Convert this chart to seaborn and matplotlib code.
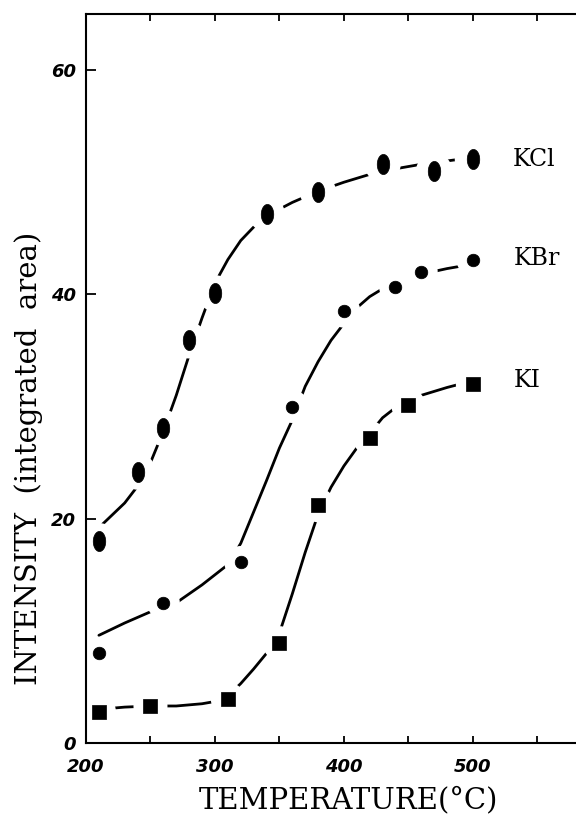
import numpy as np
import pandas as pd
import matplotlib
matplotlib.use("Agg")
import matplotlib.pyplot as plt
import seaborn as sns
from matplotlib.path import Path

# ---------------- data ----------------
kcl_temp = [210, 240, 260, 280, 300, 340, 380, 430, 470, 500]
kcl_int = [18.0, 24.2, 28.1, 35.9, 40.1, 47.2, 49.1, 51.6, 51.0, 52.1]

kbr_temp = [210, 260, 320, 360, 400, 440, 460, 500]
kbr_int = [8.0, 12.5, 16.1, 30.0, 38.5, 40.7, 42.0, 43.1]

ki_temp = [210, 250, 310, 350, 380, 420, 450, 500]
ki_int = [2.8, 3.3, 3.9, 8.9, 21.2, 27.2, 30.1, 32.0]

# smooth guide curves
kcl_curve_t = [210, 220, 230, 240, 250, 260, 270, 280, 290, 300, 310, 320,
               330, 340, 350, 360, 370, 380, 400, 420, 440, 460, 480, 500]
kcl_curve_i = [19.2, 20.3, 21.4, 22.9, 25.0, 27.8, 31.0, 34.6, 37.9, 41.0, 43.1, 44.8,
               46.0, 46.9, 47.6, 48.2, 48.7, 49.2, 50.0, 50.7, 51.2, 51.6, 51.9, 52.2]

kbr_curve_t = [210, 230, 250, 270, 290, 310, 320, 330, 340, 350, 360, 370,
               380, 390, 400, 410, 420, 430, 440, 450, 460, 480, 500]
kbr_curve_i = [9.6, 10.7, 11.7, 12.5, 14.1, 15.9, 17.8, 20.6, 23.4, 26.3, 28.8, 31.8,
               34.0, 35.9, 37.4, 38.8, 39.8, 40.5, 41.1, 41.5, 41.8, 42.3, 42.7]

ki_curve_t = [210, 230, 250, 270, 290, 300, 310, 320, 330, 340, 350, 360, 370,
              380, 390, 400, 410, 420, 430, 440, 450, 460, 480, 490, 500]
ki_curve_i = [3.0, 3.2, 3.3, 3.3, 3.5, 3.7, 4.2, 5.3, 6.6, 8.0, 9.8, 13.3, 17.0,
              20.4, 22.8, 24.7, 26.3, 27.6, 29.0, 29.9, 30.5, 31.0, 31.7, 32.0, 32.2]

series_names = ["KCl", "KBr", "KI"]
label_temp = [531, 532, 532]
label_int = [52.0, 43.2, 32.3]

x_ticks = [200, 250, 300, 350, 400, 450, 500, 550]
x_tick_labels = ["200", "", "300", "", "400", "", "500", ""]
y_ticks = [0, 20, 40, 60]
y_tick_labels = ["0", "20", "40", "60"]

x_label = "TEMPERATURE(°C)"
y_label = "INTENSITY  (integrated  area)"

# ---------------- styling ----------------
sns.set_theme(style="ticks")
plt.rcParams["font.family"] = ["DejaVu Sans"]
plt.rcParams["axes.linewidth"] = 1.5

fig = plt.figure(figsize=(5.76, 8.14), dpi=100)
ax = fig.add_axes([86 / 576, 71 / 814, 490 / 576, 729 / 814])

theta = np.linspace(0, 2 * np.pi, 64)
ellipse = Path(np.column_stack([0.62 * np.cos(theta), np.sin(theta)]), closed=True)

curves = [
    (kcl_curve_t, kcl_curve_i),
    (kbr_curve_t, kbr_curve_i),
    (ki_curve_t, ki_curve_i),
]
points = [
    (kcl_temp, kcl_int, ellipse, 210, 680),
    (kbr_temp, kbr_int, "o", 82, 560),
    (ki_temp, ki_int, "s", 100, 600),
]

for (ct, ci) in curves:
    df = pd.DataFrame({"t": ct, "i": ci})
    sns.lineplot(data=df, x="t", y="i", ax=ax, color="black", linewidth=2.0,
                 sort=False, estimator=None, zorder=2,
                 solid_capstyle="round")

for (pt, pi_, mk, s, halo) in points:
    df = pd.DataFrame({"t": pt, "i": pi_})
    # white gap around every marker, as in the original drawing
    ax.scatter(df["t"], df["i"], s=halo, marker="o", facecolors="white",
               edgecolors="none", linewidths=0, zorder=3)
    sns.scatterplot(data=df, x="t", y="i", ax=ax, marker=mk, s=s,
                    color="black", edgecolor="black", linewidth=0.5, zorder=4)

for name, lt, li in zip(series_names, label_temp, label_int):
    ax.text(lt, li, name, ha="left", va="center", fontsize=17,
            family=["DejaVu Serif"], color="black")

ax.set_xlim(200, 580)
ax.set_ylim(0, 65)

ax.set_xticks(x_ticks)
ax.set_xticklabels(x_tick_labels)
ax.set_yticks(y_ticks)
ax.set_yticklabels(y_tick_labels)

for lab in ax.get_xticklabels() + ax.get_yticklabels():
    lab.set_fontweight("bold")
    lab.set_fontstyle("italic")
    lab.set_fontsize(13)
    lab.set_family(["DejaVu Sans"])

ax.tick_params(axis="x", direction="in", length=5, width=1.3, top=True,
               bottom=True, pad=11, colors="black")
ax.tick_params(axis="y", direction="in", length=7, width=1.3, left=True,
               right=False, pad=7, colors="black")

ax.spines["right"].set_visible(False)
for sp in ["left", "bottom", "top"]:
    ax.spines[sp].set_color("black")
    ax.spines[sp].set_linewidth(1.5)
    ax.spines[sp].set_zorder(6)

ax.set_xlabel(x_label, fontsize=21, family=["DejaVu Serif"], color="black")
ax.set_ylabel(y_label, fontsize=21, family=["DejaVu Serif"], color="black",
              va="center")
ax.xaxis.set_label_coords(0.535, -0.078)
ax.yaxis.set_label_coords(-0.118, 0.39)
ax.xaxis.label.set_va("center")

fig.savefig("out.png", dpi=100, facecolor="white")
